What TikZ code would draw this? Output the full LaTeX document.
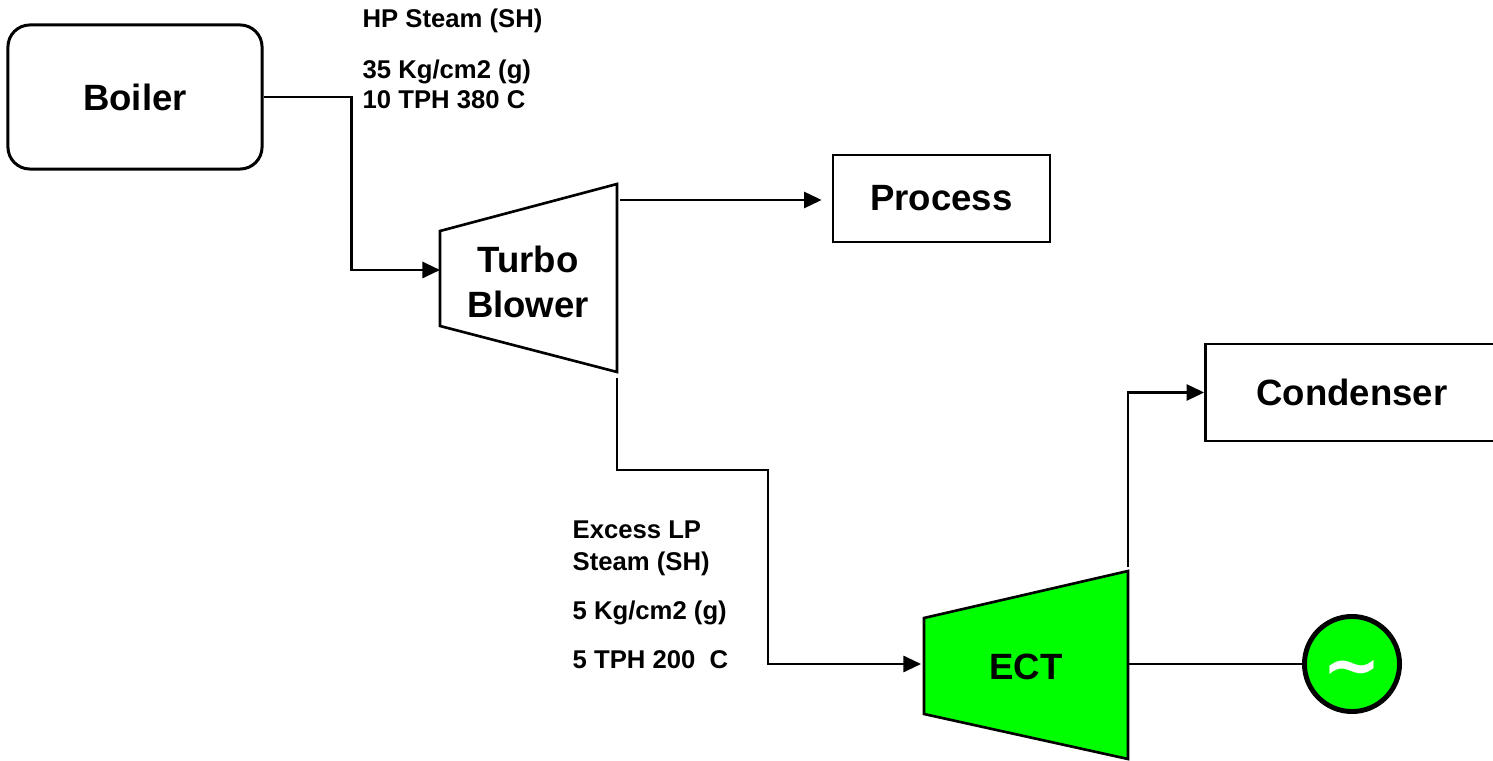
\documentclass[tikz,border=0pt]{standalone}
\usepackage{fontspec}
\setmainfont{Liberation Sans}
\newfontfamily\genfont{DejaVu Sans}
\usetikzlibrary{arrows.meta,positioning,calc}
\definecolor{ectgreen}{HTML}{00FF00}
\definecolor{pipe}{HTML}{000000}
\tikzset{
  unitbox/.style={
    rectangle, draw=pipe, fill=white, line width=0.75pt,
    font=\fontsize{10.4}{12}\selectfont\bfseries, align=center,
    inner sep=0pt
  },
  machine/.style={draw=pipe, line width=0.75pt, fill=#1},
  machine/.default=white,
  machinelabel/.style={
    font=\fontsize{10.4}{12.6}\selectfont\bfseries, align=center,
    inner sep=0pt
  },
  steamlabel/.style={
    anchor=base west, inner sep=0pt,
    font=\fontsize{7.3}{9}\selectfont\bfseries
  },
  steamarrow/.style={
    -{Triangle[length=5pt, width=4.6pt]}, line width=0.65pt, color=pipe
  },
  steamline/.style={line width=0.65pt, color=pipe},
}

\begin{document}
\begin{tikzpicture}[x=0.01cm, y=-0.01cm]
\useasboundingbox (0,0) rectangle (1493,761);
% Boiler
\node[unitbox, rounded corners=0.22cm, line width=0.85pt,
      minimum width=2.54cm, minimum height=1.44cm] (boiler) at (135,97) {Boiler};
\node[steamlabel] (hp-title) at (362,28) {HP Steam (SH)};
\node[steamlabel] (hp-press) at (362,79) {35 Kg/cm2 (g)};
\node[steamlabel] (hp-flow) at (362,109) {10 TPH 380 C};

% Turbo blower
\coordinate (tb-nw) at (440,231);
\coordinate (tb-sw) at (440,326);
\coordinate (tb-ne) at (617,184);
\coordinate (tb-se) at (617,372);
\draw[machine] (tb-nw) -- (tb-ne) -- (tb-se) -- (tb-sw) -- cycle;
\node[machinelabel] (tb-label) at (528,282) {Turbo\\Blower};
\coordinate (tb-in) at (440,270);
\coordinate (tb-top) at (620,200);
\coordinate (tb-out) at (617,378);

% Process and condenser
\node[unitbox, minimum width=2.17cm, minimum height=0.87cm] (process) at (941.5,198.5) {Process};
\node[unitbox, minimum width=2.93cm, minimum height=0.97cm] (condenser) at (1352,392.5) {Condenser};

% ECT
\coordinate (ect-nw) at (924,618);
\coordinate (ect-sw) at (924,714);
\coordinate (ect-ne) at (1128,571);
\coordinate (ect-se) at (1128,759);
\draw[machine=ectgreen] (ect-nw) -- (ect-ne) -- (ect-se) -- (ect-sw) -- cycle;
\node[machinelabel] (ect-label) at (1026,667) {ECT};
\coordinate (ect-in) at (921,664);
\coordinate (ect-top) at (1128,567);
\coordinate (ect-shaft) at (1128,664);
\node[steamlabel] (lp-title) at (572,539) {Excess LP};
\node[steamlabel] (lp-title2) at (572,571) {Steam (SH)};
\node[steamlabel] (lp-press) at (572,620) {5 Kg/cm2 (g)};
\node[steamlabel] (lp-flow) at (572,669) {5 TPH 200\ \ C};

% Generator
\node[circle, draw=pipe, fill=ectgreen, line width=1.4pt, minimum size=0.95cm,
      inner sep=0pt, text=white, font=\genfont\fontsize{20}{20}\selectfont\bfseries] (gen) at (1352,664)
      {\raisebox{-0.36em}[0pt][0pt]{\textasciitilde}};

% Connectors
\draw[steamarrow] (boiler.east) -- ++(88,0) |- (tb-in);
\draw[steamarrow, shorten >=0.1cm] (tb-top) -- (tb-top -| process.west);
\draw[steamarrow] (tb-out) -- ++(0,92) -- ++(151,0) |- (ect-in);
\draw[steamarrow] (ect-top) |- (condenser.west);
\draw[steamline] (ect-shaft) -- (gen.west);
\end{tikzpicture}
\end{document}
